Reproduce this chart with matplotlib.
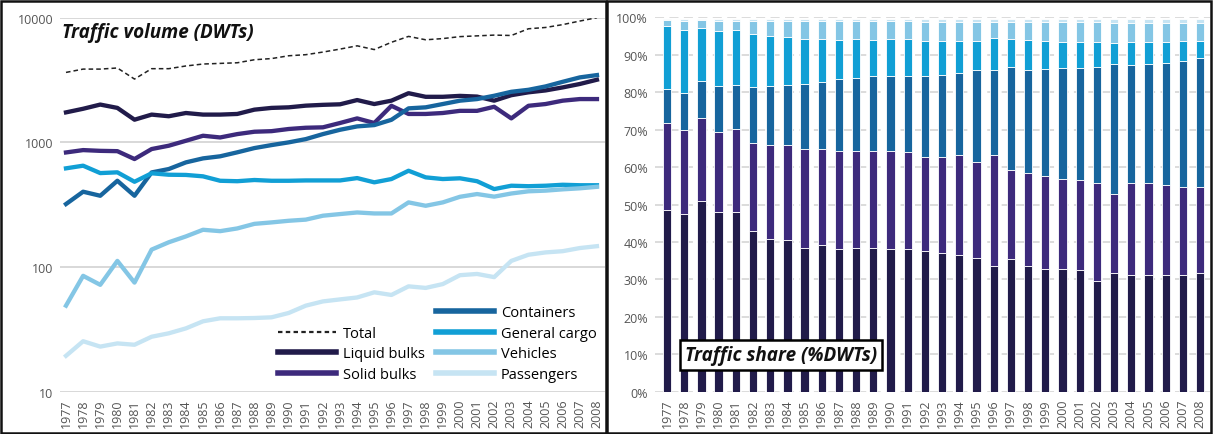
import matplotlib.pyplot as plt
from matplotlib.lines import Line2D
from matplotlib.ticker import FixedLocator, FixedFormatter
import numpy as np

plt.rcParams['font.family'] = ['Open Sans', 'DejaVu Sans']

years = list(range(1977, 2009))

# traffic volume (DWTs)
total = [3640, 3870, 3870, 3950, 3220, 3900, 3900, 4100, 4250, 4300, 4350, 4600, 4700, 4950, 5050,
         5300, 5600, 5950, 5550, 6350, 7080, 6650, 6800, 7050, 7150, 7250, 7200, 8150, 8350, 8800,
         9400, 10000]
liquid = [1740, 1860, 2010, 1890, 1520, 1670, 1620, 1720, 1670, 1670, 1690, 1830, 1890, 1910, 1970,
          2000, 2020, 2185, 2030, 2160, 2480, 2320, 2320, 2360, 2330, 2160, 2390, 2520, 2610, 2760,
          2940, 3180]
solid = [830, 867, 855, 850, 735, 884, 940, 1030, 1130, 1095, 1165, 1217, 1230, 1280, 1310, 1320,
         1430, 1557, 1430, 1965, 1690, 1690, 1720, 1790, 1790, 1930, 1557, 1965, 2030, 2160, 2225,
         2225]
containers = [320, 402, 373, 492, 373, 574, 611, 691, 744, 773, 832, 900, 951, 1000, 1062, 1165,
              1262, 1343, 1376, 1517, 1874, 1910, 2030, 2160, 2225, 2365, 2545, 2640, 2810, 3060,
              3320, 3465]
general = [619, 650, 567, 575, 483, 565, 550, 548, 534, 492, 488, 499, 492, 492, 495, 495, 495, 517,
           478, 508, 592, 524, 508, 515, 488, 422, 449, 445, 449, 457, 453, 453]
vehicles = [49, 85, 72, 112, 75, 138, 158, 176, 199, 194, 204, 222, 228, 235, 240, 258, 266, 274,
            269, 269, 330, 310, 330, 366, 385, 367, 389, 405, 410, 420, 428, 440]
passengers = [19.4, 25.4, 23, 24.4, 23.8, 27.6, 29.4, 32.2, 36.7, 38.8, 38.8, 39, 39.5, 42.8, 49,
              53, 55, 57, 62.7, 59.7, 70, 68, 73, 86, 88, 83, 112, 125.5, 131, 134, 142, 147]

# traffic share (%), cumulative top of each stacked segment
liquid_top = [48.5, 47.5, 51.0, 48.0, 48.0, 42.9, 40.9, 40.4, 38.4, 39.1, 38.2, 38.4, 38.5, 38.0,
              38.2, 37.6, 37.1, 36.4, 35.7, 33.6, 35.5, 33.6, 32.9, 32.9, 32.4, 29.6, 31.7, 31.3,
              31.3, 31.1, 31.1, 31.8]
solid_top = [71.7, 69.9, 73.0, 69.3, 70.1, 66.4, 65.9, 65.9, 64.9, 64.9, 64.3, 64.2, 64.2, 64.2,
             64.0, 62.6, 62.7, 63.1, 61.3, 63.1, 59.3, 58.4, 57.7, 56.9, 56.6, 55.8, 52.7, 55.8,
             55.8, 55.3, 54.6, 54.6]
containers_top = [80.8, 79.9, 82.9, 81.7, 81.9, 81.4, 81.7, 82.0, 82.3, 82.7, 83.6, 83.8, 84.2, 84.2,
                  84.2, 84.3, 84.7, 85.0, 85.8, 85.8, 86.7, 85.8, 86.3, 86.5, 86.5, 86.7, 87.6, 87.2,
                  87.6, 87.8, 88.2, 89.1]
general_top = [97.8, 96.7, 97.2, 96.3, 96.5, 95.6, 95.0, 94.7, 94.2, 94.2, 94.0, 94.1, 94.0, 94.1,
               94.1, 93.7, 93.7, 93.8, 93.8, 94.4, 94.1, 93.9, 93.7, 93.4, 93.4, 93.5, 93.1, 93.4,
               93.4, 93.5, 93.8, 93.8]
vehicles_top = [99.2, 99.1, 99.2, 99.1, 99.1, 99.1, 99.0, 99.0, 98.9, 98.9, 98.9, 98.9, 98.9, 98.9,
                98.9, 98.8, 98.8, 98.8, 98.8, 98.8, 98.8, 98.8, 98.7, 98.7, 98.7, 98.7, 98.6, 98.6,
                98.6, 98.6, 98.6, 98.6]
passengers_top = [99.6] * 32

c_liquid = '#211b4a'
c_solid = '#3d2a7c'
c_cont = '#17659e'
c_gen = '#119fd5'
c_veh = '#84c6e5'
c_pass = '#c6e4f3'

fig = plt.figure(figsize=(12.13, 4.35), dpi=100)

# ---- left: traffic volume
ax = fig.add_axes([60 / 1213, 42.3 / 435, 545 / 1213, 374 / 435])
ax.plot(years, total, color='#222222', lw=1.1, ls=(0, (3, 2)))
ax.plot(years, liquid, color=c_liquid, lw=3.1)
ax.plot(years, solid, color=c_solid, lw=3.1)
ax.plot(years, containers, color=c_cont, lw=3.1)
ax.plot(years, general, color=c_gen, lw=3.1)
ax.plot(years, vehicles, color=c_veh, lw=3.1)
ax.plot(years, passengers, color=c_pass, lw=3.1)
ax.set_yscale('log')
ax.set_ylim(10, 10000)
ax.set_xlim(1976.65, 2008.47)
ax.yaxis.set_major_locator(FixedLocator([10, 100, 1000, 10000]))
ax.yaxis.set_major_formatter(FixedFormatter(['10', '100', '1000', '10000']))
ax.yaxis.set_minor_locator(FixedLocator([]))
ax.set_xticks(years)
ax.set_xticklabels([str(y) for y in years], rotation=90)
ax.tick_params(length=0, labelsize=9, labelcolor='#555555', pad=5)
ax.grid(axis='y', color='#d6d6d6', lw=1.3)
ax.set_axisbelow(True)
for s in ax.spines.values():
    s.set_visible(False)
ax.text(0.004, 0.962, 'Traffic volume (DWTs)', transform=ax.transAxes, fontsize=13.6,
        fontweight='bold', fontstyle='italic', va='center', ha='left', color='#111111')

h1 = [Line2D([], [], color='#222222', lw=1.6, ls=(0, (2, 1.5))),
      Line2D([], [], color=c_liquid, lw=4),
      Line2D([], [], color=c_solid, lw=4)]
leg1 = ax.legend(h1, ['Total', 'Liquid bulks', 'Solid bulks'], loc='upper left',
                 bbox_to_anchor=(0.40, 0.176), frameon=False, fontsize=10.5, handlelength=4.0,
                 handletextpad=0.45, labelspacing=0.38, borderpad=0, borderaxespad=0)
ax.add_artist(leg1)
h2 = [Line2D([], [], color=c_cont, lw=4), Line2D([], [], color=c_gen, lw=4),
      Line2D([], [], color=c_veh, lw=4), Line2D([], [], color=c_pass, lw=4)]
ax.legend(h2, ['Containers', 'General cargo', 'Vehicles', 'Passengers'], loc='upper left',
          bbox_to_anchor=(0.69, 0.231), frameon=False, fontsize=10.5, handlelength=4.0,
          handletextpad=0.45, labelspacing=0.38, borderpad=0, borderaxespad=0)

# ---- right: traffic share
ax2 = fig.add_axes([655 / 1213, 42.3 / 435, 555 / 1213, 374.4 / 435])
tops = [liquid_top, solid_top, containers_top, general_top, vehicles_top, passengers_top]
cols = [c_liquid, c_solid, c_cont, c_gen, c_veh, c_pass]
bottom = np.zeros(len(years))
for t, c in zip(tops, cols):
    t = np.array(t)
    ax2.bar(years, t - bottom, bottom=bottom, width=0.48, color=c, edgecolor='white', lw=0.6)
    bottom = t
ax2.set_ylim(0, 100)
ax2.set_xlim(1976.3, 2008.58)
ax2.set_yticks(range(0, 101, 10))
ax2.set_yticklabels(['%d%%' % v for v in range(0, 101, 10)])
ax2.set_xticks(years)
ax2.set_xticklabels([str(y) for y in years], rotation=90)
ax2.tick_params(length=0, labelsize=9, labelcolor='#555555', pad=5)
ax2.grid(axis='y', color='#d9d9d9', lw=1.3, ls=(0, (5, 3)))
ax2.set_axisbelow(True)
for s in ax2.spines.values():
    s.set_visible(False)
ax2.text(0.054, 0.098, 'Traffic share (%DWTs)', transform=ax2.transAxes, fontsize=13.6,
         fontweight='bold', fontstyle='italic', va='center', ha='left', color='#111111',
         bbox=dict(boxstyle='square,pad=0.28', facecolor='white', edgecolor='black', lw=1.8))

# panel frames
for x0, w in [(1 / 1213, 605 / 1213), (607 / 1213, 604 / 1213)]:
    fig.patches.append(plt.Rectangle((x0, 1 / 435), w, 432 / 435, transform=fig.transFigure,
                                     fill=False, edgecolor='#111111', lw=1.8))

fig.savefig('out.png', dpi=100)
